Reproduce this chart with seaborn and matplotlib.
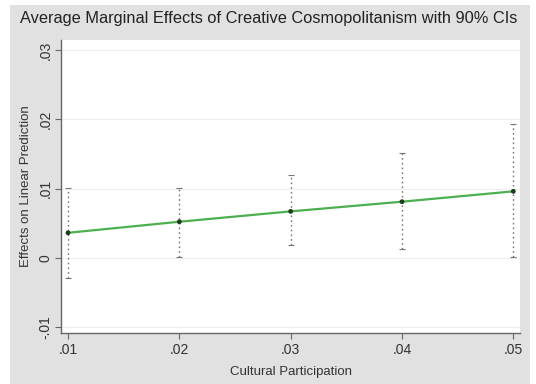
import numpy as np
import pandas as pd
import matplotlib
matplotlib.use("Agg")
import matplotlib.pyplot as plt
from matplotlib.patches import Rectangle
import seaborn as sns

# values
participation = [0.01, 0.02, 0.03, 0.04, 0.05]
effect = [0.0036, 0.0052, 0.0067, 0.0081, 0.0096]
ci_low = [-0.0029, 0.0001, 0.0019, 0.0012, 0.0001]
ci_high = [0.0101, 0.0101, 0.0119, 0.0152, 0.0194]
x_ticks = [0.01, 0.02, 0.03, 0.04, 0.05]
x_labels = [".01", ".02", ".03", ".04", ".05"]
y_ticks = [-0.01, 0, 0.01, 0.02, 0.03]
y_labels = ["-.01", "0", ".01", ".02", ".03"]

df = pd.DataFrame({"x": participation, "y": effect, "lo": ci_low, "hi": ci_high})

sns.set_style("white")
plt.rcParams["font.family"] = ["Liberation Sans", "DejaVu Sans"]

W, H = 536, 384
fig = plt.figure(figsize=(W / 100, H / 100), dpi=100)
fig.patch.set_facecolor("white")
# gray graph region (Stata style), with a thin white margin around it
fig.add_artist(Rectangle((10 / W, 0), (530 - 10) / W, (H - 5) / H,
                         transform=fig.transFigure, facecolor="#e1e1e1",
                         edgecolor="none", zorder=-10))

ax = fig.add_axes([61 / W, 1 - 333 / H, (520 - 61) / W, (333 - 40) / H])
ax.set_facecolor("white")

for t in y_ticks:
    ax.axhline(t, color="#eeeeee", lw=0.8, zorder=0)

# confidence intervals
yerr = [df["y"] - df["lo"], df["hi"] - df["y"]]
eb = ax.errorbar(df["x"], df["y"], yerr=yerr, fmt="none", ecolor="#777777",
                 elinewidth=1.0, capsize=2, capthick=0.8, zorder=2)
eb[2][0].set_linestyle((0, (1.2, 2.2)))

sns.lineplot(data=df, x="x", y="y", color="#4caf50", lw=1.6, ax=ax, zorder=3)
sns.scatterplot(data=df, x="x", y="y", color="#1d3d1d", s=12, ax=ax, zorder=4,
                edgecolor="none")

ax.set_xlim(0.00937, 0.0506)
ax.set_ylim(-0.0109, 0.0315)
ax.set_xticks(x_ticks)
ax.set_xticklabels(x_labels, fontsize=10, color="#333333")
ax.set_yticks(y_ticks)
ax.set_yticklabels(y_labels, fontsize=10, rotation=90, va="center", color="#333333")
ax.tick_params(axis="both", length=4, width=0.8, color="#666666", direction="out",
               left=True, bottom=True)
ax.tick_params(axis="y", pad=2)

for side in ["top", "right"]:
    ax.spines[side].set_visible(False)
for side in ["left", "bottom"]:
    ax.spines[side].set_color("#666666")
    ax.spines[side].set_linewidth(1.0)

ax.set_xlabel("Cultural Participation", fontsize=9.5, color="#333333", labelpad=6)
ax.set_ylabel("Effects on Linear Prediction", fontsize=9.5, color="#333333", labelpad=5)
fig.suptitle("Average Marginal Effects of Creative Cosmopolitanism with 90% CIs",
             fontsize=11.8, x=269 / W, y=1 - 19 / H, va="center", color="#222222")

fig.savefig("out.png", dpi=100, facecolor=fig.get_facecolor())
